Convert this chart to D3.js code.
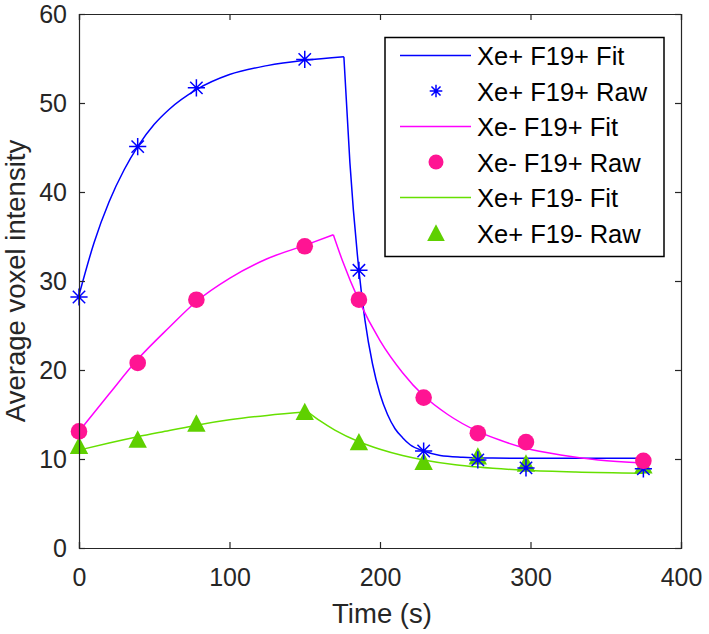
<!DOCTYPE html>
<html><head><meta charset="utf-8">
<script src="https://cdn.jsdelivr.net/npm/d3@7"></script>
<style>body{margin:0;background:#fff}</style>
</head><body>
<svg id="chart" width="709" height="634"></svg>
<script>
// ---------- data ----------
const rawTime = [0, 39, 78, 150, 186, 229, 265, 297, 375];
const rawXeF19 = [28.2, 45.1, 51.7, 54.9, 31.2, 10.9, 9.9, 9.0, 8.9];
const rawNoXeF19 = [13.1, 20.8, 27.9, 33.9, 27.9, 16.9, 12.9, 11.9, 9.8];
const rawXeNoF19 = [11.5, 12.2, 14.0, 15.3, 11.9, 9.7, 10.3, 9.5, 9.3];

const fitXeF19RiseT = [0, 10, 20, 30, 39, 50, 60, 78, 100, 125, 150, 176];
const fitXeF19Rise = [28.4, 34.3, 38.9, 42.5, 45.1, 47.6, 49.3, 51.5, 53.2, 54.2, 54.8, 55.2];
const fitXeF19DecayT = [176, 180, 186, 190, 195, 200, 205, 210, 215, 220, 229, 240, 255, 275, 375];
const fitXeF19Decay = [55.2, 43.3, 31.2, 25.6, 20.7, 17.3, 15.0, 13.4, 12.4, 11.6, 10.9, 10.4, 10.2, 10.1, 10.08];

const fitNoXeF19RiseT = [0, 20, 39, 60, 78, 100, 125, 150, 169];
const fitNoXeF19Rise = [13.1, 17.3, 21.2, 24.8, 27.7, 30.3, 32.5, 34.0, 35.2];
const fitNoXeF19DecayT = [169, 175, 186, 200, 215, 229, 245, 265, 280, 297, 320, 345, 375];
const fitNoXeF19Decay = [35.2, 32.3, 27.8, 23.3, 19.7, 17.1, 15.0, 13.1, 12.1, 11.2, 10.45, 9.9, 9.56];

const fitXeNoF19RiseT = [0, 20, 39, 60, 78, 100, 125, 152];
const fitXeNoF19Rise = [11.0, 11.8, 12.5, 13.2, 13.8, 14.4, 14.9, 15.3];
const fitXeNoF19DecayT = [152, 160, 170, 186, 200, 215, 229, 250, 265, 297, 330, 375];
const fitXeNoF19Decay = [15.3, 14.3, 13.25, 11.94, 11.1, 10.4, 9.9, 9.36, 9.1, 8.73, 8.53, 8.4];

const xTicks = [0, 100, 200, 300, 400];
const yTicks = [0, 10, 20, 30, 40, 50, 60];
const legendLabels = ["Xe+ F19+ Fit", "Xe+ F19+ Raw", "Xe- F19+ Fit", "Xe- F19+ Raw", "Xe+ F19- Fit", "Xe+ F19- Raw"];
const xLabel = "Time (s)";
const yLabel = "Average voxel intensity";

// ---------- setup ----------
const FONT = "'Liberation Sans', Arial, Helvetica, sans-serif";
const AX = "#262626";
const svg = d3.select("#chart");
svg.append("rect").attr("width", 709).attr("height", 634).attr("fill", "#fff");

const x = d3.scaleLinear().domain([0, 400]).range([79, 681]);
const y = d3.scaleLinear().domain([0, 60]).range([548, 14]);

const zip = (t, v) => t.map((d, i) => [d, v[i]]);

const series = [
  { key: "green", line: "#66e000", mark: "#5fd000", shape: "tri",
    fits: [zip(fitXeNoF19RiseT, fitXeNoF19Rise), zip(fitXeNoF19DecayT, fitXeNoF19Decay)],
    raw: zip(rawTime, rawXeNoF19) },
  { key: "blue", line: "#0000ff", mark: "#0000ff", shape: "star",
    fits: [zip(fitXeF19RiseT, fitXeF19Rise), zip(fitXeF19DecayT, fitXeF19Decay)],
    raw: zip(rawTime, rawXeF19) },
  { key: "pink", line: "#ff00ff", mark: "#ff1493", shape: "circle",
    fits: [zip(fitNoXeF19RiseT, fitNoXeF19Rise), zip(fitNoXeF19DecayT, fitNoXeF19Decay)],
    raw: zip(rawTime, rawNoXeF19) }
];

function drawMarker(g, shape, color, s) {
  if (shape === "star") {
    const d = s * 0.72;
    g.append("path")
      .attr("d", `M${-s},0H${s}M0,${-s}V${s}M${-d},${-d}L${d},${d}M${-d},${d}L${d},${-d}`)
      .attr("stroke", color).attr("stroke-width", 1.5).attr("fill", "none");
  } else if (shape === "circle") {
    g.append("circle").attr("r", s).attr("fill", color);
  } else {
    g.append("path")
      .attr("d", `M0,${-s}L${s},${s * 0.9}L${-s},${s * 0.9}Z`)
      .attr("fill", color);
  }
}

const plot = svg.append("g");
const lineGen = d3.line().x(d => x(d[0])).y(d => y(d[1])).curve(d3.curveMonotoneX);
series.forEach(s => {
  s.fits.forEach(seg => {
    plot.append("path").datum(seg).attr("d", lineGen)
      .attr("fill", "none").attr("stroke", s.line).attr("stroke-width", 1.5);
  });
});
series.forEach(s => {
  s.raw.forEach(p => {
    const g = plot.append("g").attr("transform", `translate(${x(p[0])},${y(p[1])})`);
    const size = s.shape === "star" ? 8.6 : (s.shape === "circle" ? 8.3 : 9.2);
    drawMarker(g, s.shape, s.mark, size);
  });
});

// frame + ticks
const axG = svg.append("g").attr("font-family", FONT);
const axBottom = axG.append("g").attr("transform", "translate(0,548)")
  .call(d3.axisBottom(x).tickValues(xTicks).tickSize(-6).tickPadding(20).tickFormat(d3.format("d")));
const axTop = axG.append("g").attr("transform", "translate(0,14)")
  .call(d3.axisTop(x).tickValues(xTicks).tickSize(-6).tickFormat(""));
const axLeft = axG.append("g").attr("transform", "translate(79,0)")
  .call(d3.axisLeft(y).tickValues(yTicks).tickSize(-6).tickPadding(12).tickFormat(d3.format("d")));
const axRight = axG.append("g").attr("transform", "translate(681,0)")
  .call(d3.axisRight(y).tickValues(yTicks).tickSize(-6).tickFormat(""));
[axBottom, axTop, axLeft, axRight].forEach(a => {
  a.selectAll(".domain").attr("stroke", AX).attr("stroke-width", 1.2);
  a.selectAll(".tick line").attr("stroke", AX).attr("stroke-width", 1.2);
  a.selectAll("text").attr("fill", AX).attr("font-size", 25).attr("font-family", FONT);
});
axBottom.selectAll(".tick text").attr("dy", null).attr("y", 586 - 548);
axLeft.selectAll(".tick text").attr("dy", "0.35em");

// axis labels
svg.append("text").attr("x", 382).attr("y", 623).attr("text-anchor", "middle")
  .attr("font-family", FONT).attr("font-size", 27.5).attr("fill", AX).text(xLabel);
svg.append("text").attr("transform", "translate(25,281) rotate(-90)").attr("text-anchor", "middle")
  .attr("font-family", FONT).attr("font-size", 27.5).attr("fill", AX).text(yLabel);

// legend
const leg = svg.append("g");
leg.append("rect").attr("x", 385).attr("y", 37.5).attr("width", 279).attr("height", 219)
  .attr("fill", "#fff").attr("stroke", "#000").attr("stroke-width", 1.5);
const legOrder = [series[1], series[2], series[0]];
legendLabels.forEach((lab, i) => {
  const s = legOrder[Math.floor(i / 2)];
  const base = 65 + i * 35.5;
  const cy = base - 9.5;
  if (i % 2 === 0) {
    leg.append("line").attr("x1", 400).attr("x2", 471).attr("y1", cy).attr("y2", cy)
      .attr("stroke", s.line).attr("stroke-width", 1.5);
  } else {
    const g = leg.append("g").attr("transform", `translate(436,${cy})`);
    const size = s.shape === "star" ? 6.3 : (s.shape === "circle" ? 7.5 : 8.8);
    drawMarker(g, s.shape, s.mark, size);
  }
  leg.append("text").attr("x", 477).attr("y", base).attr("font-family", FONT)
    .attr("font-size", 25.5).attr("fill", "#000").text(lab);
});
</script>
</body></html>
